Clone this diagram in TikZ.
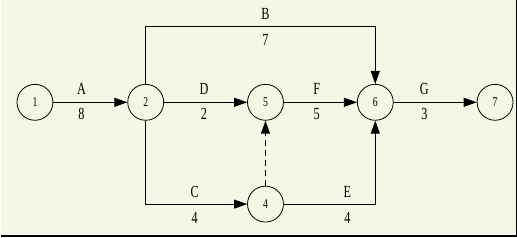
\documentclass[tikz,border=0pt]{standalone}
\usepackage{fontspec}
\newfontfamily\netfont[FakeStretch=0.72]{Liberation Serif}
\usetikzlibrary{positioning, arrows.meta, calc}
\definecolor{paper}{HTML}{F6F6E4}

\begin{document}
\begin{tikzpicture}[
    x=1pt, y=1pt,
    >={Triangle[length=13pt, width=9pt]},
    event/.style={
        circle, draw=black, line width=0.8pt,
        minimum size=36pt, inner sep=0pt,
        font=\netfont\fontsize{13.5}{13.5}\selectfont
    },
    act/.style={->, line width=0.8pt, black},
    dummy/.style={->, line width=0.8pt, black, dash pattern=on 6pt off 4pt},
    lbl/.style={font=\netfont\fontsize{17}{17}\selectfont, inner sep=0pt},
]

% Paper
\fill[paper] (0,0) rectangle (517,237);
\draw[black, line width=2pt] (0,1) -- (516,1);
\draw[black, line width=1pt] (516.5,0) -- (516.5,237);
\useasboundingbox (0,0) rectangle (517,237);

% Events
\node[event] (e1) at (34,135) {1};
\node[event] (e2) at (145,135) {2};
\node[event] (e5) at (265,135) {5};
\node[event] (e6) at (375,135) {6};
\node[event] (e7) at (495,135) {7};
\node[event] (e4) at (265,33) {4};

% Straight activities
\draw[act] (e1) -- node[lbl, pos=0.38, above=7pt] (la) {A} node[lbl, pos=0.38, below=6pt] (da) {8} (e2);
\draw[act] (e2) -- node[lbl, pos=0.48, above=7pt] (ld) {D} node[lbl, pos=0.48, below=6pt] (dd) {2} (e5);
\draw[act] (e5) -- node[lbl, pos=0.45, above=7pt] (lf) {F} node[lbl, pos=0.45, below=6pt] (df) {5} (e6);
\draw[act] (e6) -- node[lbl, pos=0.37, above=7pt] (lg) {G} node[lbl, pos=0.37, below=6pt] (dg) {3} (e7);

% Bent activities
\draw[act] (e2.north) |- (375,211) -- (e6.north);
\node[lbl] (lb) at (265,224) {B};
\node[lbl] (db) at (265,197) {7};
\draw[act] (e2.south) |- (e4.west);
\node[lbl] (lc) at (194,45) {C};
\node[lbl] (dc) at (194,19) {4};
\draw[act] (e4.east) -| (e6.south);
\node[lbl] (le) at (347,45) {E};
\node[lbl] (de) at (347,19) {4};

% Dummy
\draw[dummy] (e4) -- (e5);

\end{tikzpicture}
\end{document}
